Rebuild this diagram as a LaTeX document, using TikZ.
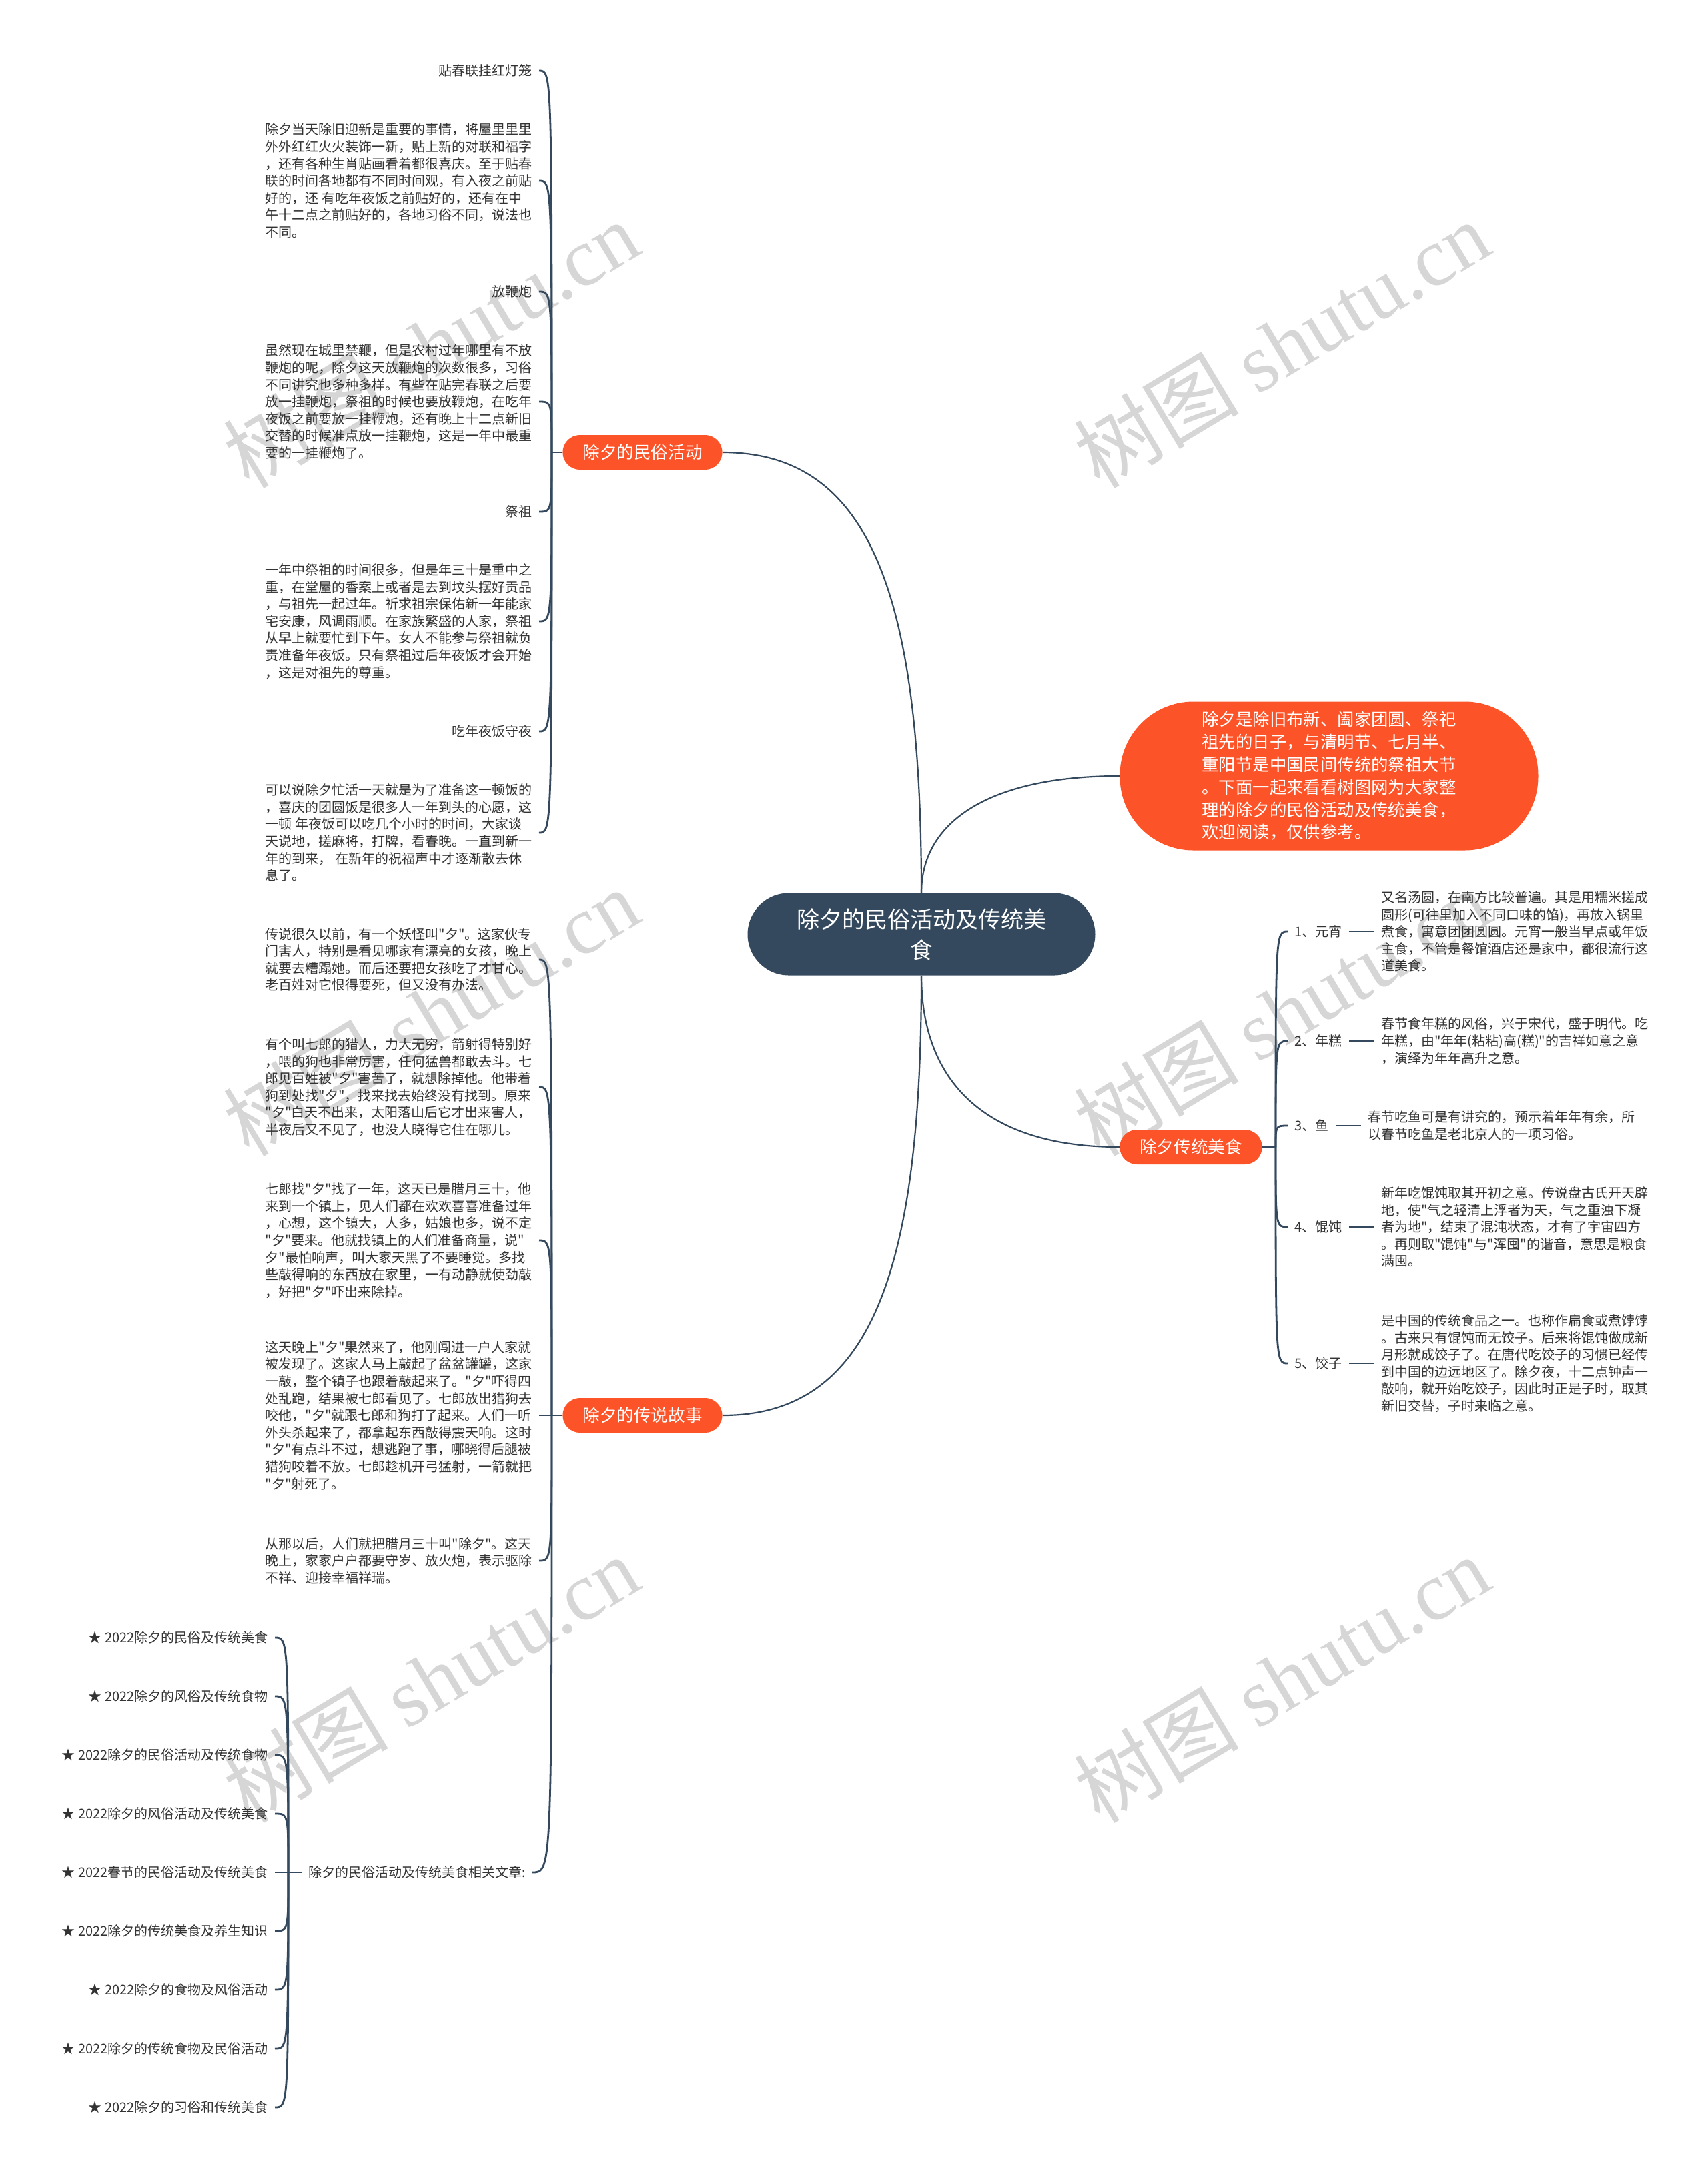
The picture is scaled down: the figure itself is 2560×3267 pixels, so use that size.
\documentclass[tikz,border=0pt]{standalone}
\usepackage{fontspec}
\setmainfont{Noto Sans CJK SC}[Ligatures=TeXOff]
\newfontfamily\serifmark{Liberation Serif}
\usetikzlibrary{positioning}
\definecolor{slate}{HTML}{34495E}
\definecolor{flame}{HTML}{FC5428}
\definecolor{ink}{HTML}{333333}
\definecolor{wm}{HTML}{D6D6D6}
\tikzset{
  leaf/.style={font=\fontsize{10}{12.8}\selectfont, text=ink, inner sep=5pt, align=left},
  twig/.style={draw=slate, line width=1.4pt},
  limb/.style={draw=slate, line width=1.1pt},
  branch/.style={fill=flame, text=white, font=\fontsize{12.8}{15}\selectfont,
    minimum height=26pt, inner xsep=15pt, rounded corners=13pt},
  wmark/.style={text=wm, rotate=31, font=\fontsize{62}{62}\selectfont},
}
\begin{document}
\begin{tikzpicture}[x=0.5pt,y=-0.5pt]
  \useasboundingbox (0,0) rectangle (2560,3267);
  \foreach \x in {646,1921} \foreach \y in {516,1517,2516}
    \node[wmark] (wm\x\y) at (\x,\y) {树图 {\serifmark shutu.cn}};

  \node[fill=slate, text=white, font=\fontsize{17}{23}\selectfont, align=center,
    minimum width=260.5pt, minimum height=61.5pt, rounded corners=30.75pt]
    (root) at (1381,1400) {除夕的民俗活动及传统美\\食};

  \node[branch] (mh) at (963,678) {除夕的民俗活动};
  \node[branch] (cs) at (963,2121) {除夕的传说故事};
  \node[branch] (ms) at (1785,1719) {除夕传统美食};
  \node[fill=flame, text=white, font=\fontsize{12.7}{16.9}\selectfont, align=left,
    minimum width=313.5pt, minimum height=111.5pt, rounded corners=55pt]
    (intro) at (1992,1163) {除夕是除旧布新、阖家团圆、祭祀\\祖先的日子，与清明节、七月半、\\重阳节是中国民间传统的祭祖大节\\。下面一起来看看树图网为大家整\\理的除夕的民俗活动及传统美食，\\欢迎阅读，仅供参考。};

  \draw[limb] (root.north) .. controls +(0,-450) and +(220,0) .. (mh.east);
  \draw[limb] (root.north) .. controls +(0,-110) and +(-190,0) .. (intro.west);
  \draw[limb] (root.south) .. controls +(0,160) and +(-200,0) .. (ms.west);
  \draw[limb] (root.south) .. controls +(0,450) and +(220,0) .. (cs.east);

  % 民俗活动
  \node[leaf, anchor=east] (t1) at (808,106) {贴春联挂红灯笼};
  \node[leaf, anchor=east] (p1) at (808,271) {除夕当天除旧迎新是重要的事情，将屋里里里\\外外红红火火装饰一新，贴上新的对联和福字\\，还有各种生肖贴画看着都很喜庆。至于贴春\\联的时间各地都有不同时间观，有入夜之前贴\\好的，还 有吃年夜饭之前贴好的，还有在中\\午十二点之前贴好的，各地习俗不同，说法也\\不同。};
  \node[leaf, anchor=east] (t2) at (808,437) {放鞭炮};
  \node[leaf, anchor=east] (p2) at (808,602) {虽然现在城里禁鞭，但是农村过年哪里有不放\\鞭炮的呢，除夕这天放鞭炮的次数很多，习俗\\不同讲究也多种多样。有些在贴完春联之后要\\放一挂鞭炮，祭祖的时候也要放鞭炮，在吃年\\夜饭之前要放一挂鞭炮，还有晚上十二点新旧\\交替的时候准点放一挂鞭炮，这是一年中最重\\要的一挂鞭炮了。};
  \node[leaf, anchor=east] (t3) at (808,767) {祭祖};
  \node[leaf, anchor=east] (p3) at (808,931) {一年中祭祖的时间很多，但是年三十是重中之\\重，在堂屋的香案上或者是去到坟头摆好贡品\\，与祖先一起过年。祈求祖宗保佑新一年能家\\宅安康，风调雨顺。在家族繁盛的人家，祭祖\\从早上就要忙到下午。女人不能参与祭祖就负\\责准备年夜饭。只有祭祖过后年夜饭才会开始\\，这是对祖先的尊重。};
  \node[leaf, anchor=east] (t4) at (808,1096) {吃年夜饭守夜};
  \node[leaf, anchor=east] (p4) at (808,1248) {可以说除夕忙活一天就是为了准备这一顿饭的\\，喜庆的团圆饭是很多人一年到头的心愿，这\\一顿 年夜饭可以吃几个小时的时间，大家谈\\天说地，搓麻将，打牌，看春晚。一直到新一\\年的到来， 在新年的祝福声中才逐渐散去休\\息了。};
  \coordinate (mhj) at (827,678);
  \draw[twig] (mh.west) -- (mhj);
  \foreach \c in {t1,p1,t2,p2,t3,p3,t4,p4}
    \draw[twig] (mhj) .. controls (mhj |- \c.east) .. (\c.east);

  % 传说故事
  \node[leaf, anchor=east] (s1) at (808,1438) {传说很久以前，有一个妖怪叫"夕"。这家伙专\\门害人，特别是看见哪家有漂亮的女孩，晚上\\就要去糟蹋她。而后还要把女孩吃了才甘心。\\老百姓对它恨得要死，但又没有办法。};
  \node[leaf, anchor=east] (s2) at (808,1629) {有个叫七郎的猎人，力大无穷，箭射得特别好\\，喂的狗也非常厉害，任何猛兽都敢去斗。七\\郎见百姓被"夕"害苦了，就想除掉他。他带着\\狗到处找"夕"，找来找去始终没有找到。原来\\"夕"白天不出来，太阳落山后它才出来害人，\\半夜后又不见了，也没人晓得它住在哪儿。};
  \node[leaf, anchor=east] (s3) at (808,1859) {七郎找"夕"找了一年，这天已是腊月三十，他\\来到一个镇上，见人们都在欢欢喜喜准备过年\\，心想，这个镇大，人多，姑娘也多，说不定\\"夕"要来。他就找镇上的人们准备商量，说"\\夕"最怕响声，叫大家天黑了不要睡觉。多找\\些敲得响的东西放在家里，一有动静就使劲敲\\，好把"夕"吓出来除掉。};
  \node[leaf, anchor=east] (s4) at (808,2121) {这天晚上"夕"果然来了，他刚闯进一户人家就\\被发现了。这家人马上敲起了盆盆罐罐，这家\\一敲，整个镇子也跟着敲起来了。"夕"吓得四\\处乱跑，结果被七郎看见了。七郎放出猎狗去\\咬他，"夕"就跟七郎和狗打了起来。人们一听\\外头杀起来了，都拿起东西敲得震天响。这时\\"夕"有点斗不过，想逃跑了事，哪晓得后腿被\\猎狗咬着不放。七郎趁机开弓猛射，一箭就把\\"夕"射死了。};
  \node[leaf, anchor=east] (s5) at (808,2339) {从那以后，人们就把腊月三十叫"除夕"。这天\\晚上，家家户户都要守岁、放火炮，表示驱除\\不祥、迎接幸福祥瑞。};
  \node[leaf, anchor=east] (xg) at (798,2806) {除夕的民俗活动及传统美食相关文章:};
  \coordinate (csj) at (827,2121);
  \draw[twig] (cs.west) -- (csj);
  \foreach \c in {s1,s2,s3,s4,s5,xg}
    \draw[twig] (csj) .. controls (csj |- \c.east) .. (\c.east);

  \foreach \t [count=\i from 0] in {2022除夕的民俗及传统美食,2022除夕的风俗及传统食物,
      2022除夕的民俗活动及传统食物,2022除夕的风俗活动及传统美食,2022春节的民俗活动及传统美食,
      2022除夕的传统美食及养生知识,2022除夕的食物及风俗活动,2022除夕的传统食物及民俗活动,
      2022除夕的习俗和传统美食}
    \node[leaf, anchor=east] (r\i) at (412,2454+88*\i) {★ \t};
  \coordinate (xgj) at (432,2806);
  \draw[twig] (xg.west) -- (xgj);
  \foreach \i in {0,...,8}
    \draw[twig] (xgj) .. controls (xgj |- r\i.east) .. (r\i.east);

  % 传统美食
  \node[leaf, anchor=west] (f1) at (1930,1396) {1、元宵};
  \node[leaf, right=19pt of f1] (d1) {又名汤圆，在南方比较普遍。其是用糯米搓成\\圆形(可往里加入不同口味的馅)，再放入锅里\\煮食，寓意团团圆圆。元宵一般当早点或年饭\\主食，不管是餐馆酒店还是家中，都很流行这\\道美食。};
  \node[leaf, anchor=west] (f2) at (1930,1560) {2、年糕};
  \node[leaf, right=19pt of f2] (d2) {春节食年糕的风俗，兴于宋代，盛于明代。吃\\年糕，由"年年(粘粘)高(糕)"的吉祥如意之意\\，演绎为年年高升之意。};
  \node[leaf, anchor=west] (f3) at (1930,1687) {3、鱼};
  \node[leaf, right=19pt of f3] (d3) {春节吃鱼可是有讲究的，预示着年年有余，所\\以春节吃鱼是老北京人的一项习俗。};
  \node[leaf, anchor=west] (f4) at (1930,1839) {4、馄饨};
  \node[leaf, right=19pt of f4] (d4) {新年吃馄饨取其开初之意。传说盘古氏开天辟\\地，使"气之轻清上浮者为天，气之重浊下凝\\者为地"，结束了混沌状态，才有了宇宙四方\\。再则取"馄饨"与"浑囤"的谐音，意思是粮食\\满囤。};
  \node[leaf, anchor=west] (f5) at (1930,2043) {5、饺子};
  \node[leaf, right=19pt of f5] (d5) {是中国的传统食品之一。也称作扁食或煮饽饽\\。古来只有馄饨而无饺子。后来将馄饨做成新\\月形就成饺子了。在唐代吃饺子的习惯已经传\\到中国的边远地区了。除夕夜，十二点钟声一\\敲响，就开始吃饺子，因此时正是子时，取其\\新旧交替，子时来临之意。};
  \coordinate (msj) at (1912,1719);
  \draw[twig] (ms.east) -- (msj);
  \foreach \i in {1,...,5} {
    \draw[twig] (msj) .. controls (msj |- f\i.west) .. (f\i.west);
    \draw[twig] (f\i.east) -- (d\i.west);
  }
\end{tikzpicture}
\end{document}
